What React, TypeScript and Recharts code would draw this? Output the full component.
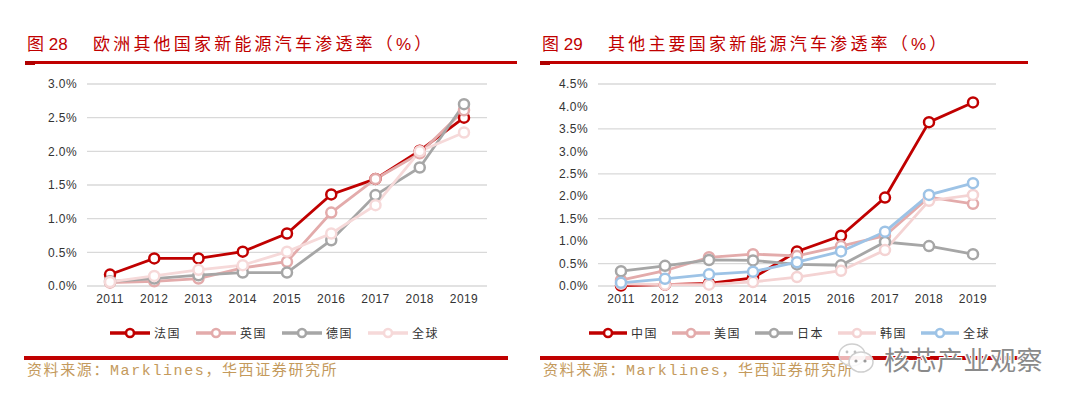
import React from 'react';
import { LineChart, Line, XAxis, YAxis, CartesianGrid } from 'recharts';

const years = ['2011', '2012', '2013', '2014', '2015', '2016', '2017', '2018', '2019'];

// Figure 28 (Europe)
const france = [0.17, 0.41, 0.41, 0.51, 0.78, 1.36, 1.59, 2.01, 2.5];
const uk = [0.05, 0.07, 0.11, 0.27, 0.36, 1.09, 1.59, 1.97, 2.61];
const germany = [0.07, 0.11, 0.16, 0.2, 0.2, 0.68, 1.35, 1.76, 2.7];
const europeGlobal = [0.06, 0.15, 0.24, 0.31, 0.51, 0.78, 1.2, 2.0, 2.28];

// Figure 29 (other major countries)
const china = [0.01, 0.03, 0.06, 0.18, 0.77, 1.12, 1.97, 3.65, 4.09];
const usa = [0.13, 0.34, 0.64, 0.71, 0.67, 0.89, 1.12, 1.98, 1.83];
const japan = [0.33, 0.45, 0.58, 0.57, 0.48, 0.46, 0.98, 0.89, 0.71];
const korea = [0.05, 0.03, 0.03, 0.09, 0.2, 0.34, 0.8, 1.9, 2.03];
const worldGlobal = [0.07, 0.16, 0.26, 0.32, 0.53, 0.77, 1.21, 2.03, 2.29];

const leftTicks = [0, 0.5, 1, 1.5, 2, 2.5, 3];
const rightTicks = [0, 0.5, 1, 1.5, 2, 2.5, 3, 3.5, 4, 4.5];

const leftSeries = [
  { key: 'fr', name: '法国', color: '#c00000', values: france },
  { key: 'uk', name: '英国', color: '#e3abab', values: uk },
  { key: 'de', name: '德国', color: '#a6a6a6', values: germany },
  { key: 'gl', name: '全球', color: '#f6d9d9', values: europeGlobal },
];

const rightSeries = [
  { key: 'cn', name: '中国', color: '#c00000', values: china },
  { key: 'us', name: '美国', color: '#e3abab', values: usa },
  { key: 'jp', name: '日本', color: '#a6a6a6', values: japan },
  { key: 'kr', name: '韩国', color: '#f4d3d3', values: korea },
  { key: 'gl', name: '全球', color: '#9dc3e6', values: worldGlobal },
];

type Series = { key: string; name: string; color: string; values: number[] };

const buildRows = (series: Series[]) =>
  years.map((y, i) => {
    const row: Record<string, string | number> = { year: y };
    series.forEach((s) => {
      row[s.key] = s.values[i];
    });
    return row;
  });

const tickStyle = { fontSize: 12, fill: '#333333', fontFamily: '"Liberation Sans", Arial, sans-serif', letterSpacing: 0.4 };
const fmt = (v: number) => `${v.toFixed(1)}%`;

const cjk = '"Noto Sans CJK SC", "Noto Sans", sans-serif';

function Chart({ series, ticks, max, yWidth, right }: { series: Series[]; ticks: number[]; max: number; yWidth: number; right: number }) {
  const rows = buildRows(series);
  return (
    <LineChart width={540} height={316} data={rows} margin={{ top: 84, right, bottom: 0, left: 0 }}>
      <CartesianGrid vertical={false} stroke="#d9d9d9" strokeWidth={1.3} />
      <XAxis
        dataKey="year"
        axisLine={false}
        tickLine={false}
        height={30}
        tick={tickStyle}
        padding={{ left: 23, right: 23 }}
        interval={0}
      />
      <YAxis
        width={yWidth}
        domain={[0, max]}
        ticks={ticks}
        axisLine={false}
        tickLine={false}
        tick={tickStyle}
        tickFormatter={fmt}
        tickMargin={4}
      />
      {series.map((s) => (
        <Line
          key={s.key}
          dataKey={s.key}
          name={s.name}
          stroke={s.color}
          strokeWidth={2.8}
          dot={{ r: 5, fill: '#ffffff', stroke: s.color, strokeWidth: 2.5 }}
          isAnimationActive={false}
        />
      ))}
    </LineChart>
  );
}

function LegendRow({ series, left, iconW, gap }: { series: Series[]; left: number; iconW: number; gap: number }) {
  return (
    <div style={{ position: 'absolute', left, top: 325, display: 'flex', alignItems: 'center', height: 16 }}>
      {series.map((s) => (
        <div key={s.key} style={{ display: 'flex', alignItems: 'center', marginRight: gap }}>
          <svg width={iconW} height={14} style={{ display: 'block' }}>
            <line x1={0} y1={7} x2={iconW} y2={7} stroke={s.color} strokeWidth={3.5} />
            <circle cx={iconW / 2} cy={7} r={4} fill="#ffffff" stroke={s.color} strokeWidth={2.6} />
          </svg>
          <span style={{ marginLeft: 4, fontSize: 12, letterSpacing: 1.5, color: '#333', fontFamily: cjk, lineHeight: '14px' }}>
            {s.name}
          </span>
        </div>
      ))}
    </div>
  );
}

function Title({ left, num, text, lineW }: { left: number; num: string; text: string; lineW: number }) {
  return (
    <>
      <div
        style={{
          position: 'absolute',
          left: left + 2,
          top: 34,
          color: '#c00000',
          fontSize: 17,
          fontFamily: `"Liberation Sans", ${cjk}`,
          whiteSpace: 'nowrap',
          lineHeight: '22px',
        }}
      >
        <span style={{ display: 'inline-block', width: 66 }}>{`图 ${num}`}</span>
        <span style={{ letterSpacing: 3.2 }}>{text}</span>
      </div>
      <div style={{ position: 'absolute', left, top: 61, width: lineW, height: 2.5, background: '#c00000' }} />
      <div style={{ position: 'absolute', left, top: 61, width: 10, height: 4, background: '#b00000' }} />
    </>
  );
}

function Footer({ left, lineW }: { left: number; lineW: number }) {
  return (
    <>
      <div style={{ position: 'absolute', left, top: 356, width: lineW, height: 4, background: '#c00000' }} />
      <div
        style={{
          position: 'absolute',
          left: left + 3,
          top: 362,
          fontSize: 15,
          letterSpacing: 1.6,
          color: '#c49a5c',
          fontFamily: `"Liberation Mono", ${cjk}`,
          whiteSpace: 'nowrap',
          lineHeight: '20px',
        }}
      >
        资料来源：Marklines，华西证券研究所
      </div>
    </>
  );
}

export default function App() {
  return (
    <div style={{ position: 'absolute', left: 0, top: 0, width: 1080, height: 407, background: '#ffffff', overflow: 'hidden' }}>
      <Title left={25} num="28" text="欧洲其他国家新能源汽车渗透率（%）" lineW={492} />
      <Title left={540} num="29" text="其他主要国家新能源汽车渗透率（%）" lineW={488} />

      <div style={{ position: 'absolute', left: 0, top: 0 }}>
        <Chart series={leftSeries} ticks={leftTicks} max={3} yWidth={87} right={53} />
      </div>
      <div style={{ position: 'absolute', left: 540, top: 0 }}>
        <Chart series={rightSeries} ticks={rightTicks} max={4.5} yWidth={58} right={84} />
      </div>

      <LegendRow series={leftSeries} left={110} iconW={40} gap={15} />
      <LegendRow series={rightSeries} left={589} iconW={38} gap={14} />

      <Footer left={24} lineW={484} />
      <Footer left={540} lineW={486} />

      <div style={{ position: 'absolute', left: 836, top: 340, display: 'flex', alignItems: 'center' }}>
        <svg width={42} height={38} style={{ display: 'block' }}>
          <ellipse cx={16} cy={15} rx={13} ry={11} fill="rgba(255,255,255,0.7)" stroke="#cfcfcf" strokeWidth={1.5} />
          <ellipse cx={25} cy={22} rx={12} ry={10} fill="rgba(255,255,255,0.85)" stroke="#cfcfcf" strokeWidth={1.5} />
          <circle cx={20} cy={21} r={1.6} fill="#9a9a9a" />
          <circle cx={29} cy={21} r={1.6} fill="#9a9a9a" />
          <circle cx={11} cy={12} r={1.4} fill="#c0c0c0" />
          <circle cx={19} cy={12} r={1.4} fill="#c0c0c0" />
        </svg>
        <span
          style={{
            marginLeft: 6,
            fontSize: 26,
            color: '#8a8a8a',
            fontFamily: cjk,
            letterSpacing: 0.5,
            lineHeight: '32px',
            textShadow: '1px 1px 0 #fff, -1px -1px 0 #fff, 1px -1px 0 #fff, -1px 1px 0 #fff',
          }}
        >
          核芯产业观察
        </span>
      </div>
    </div>
  );
}
